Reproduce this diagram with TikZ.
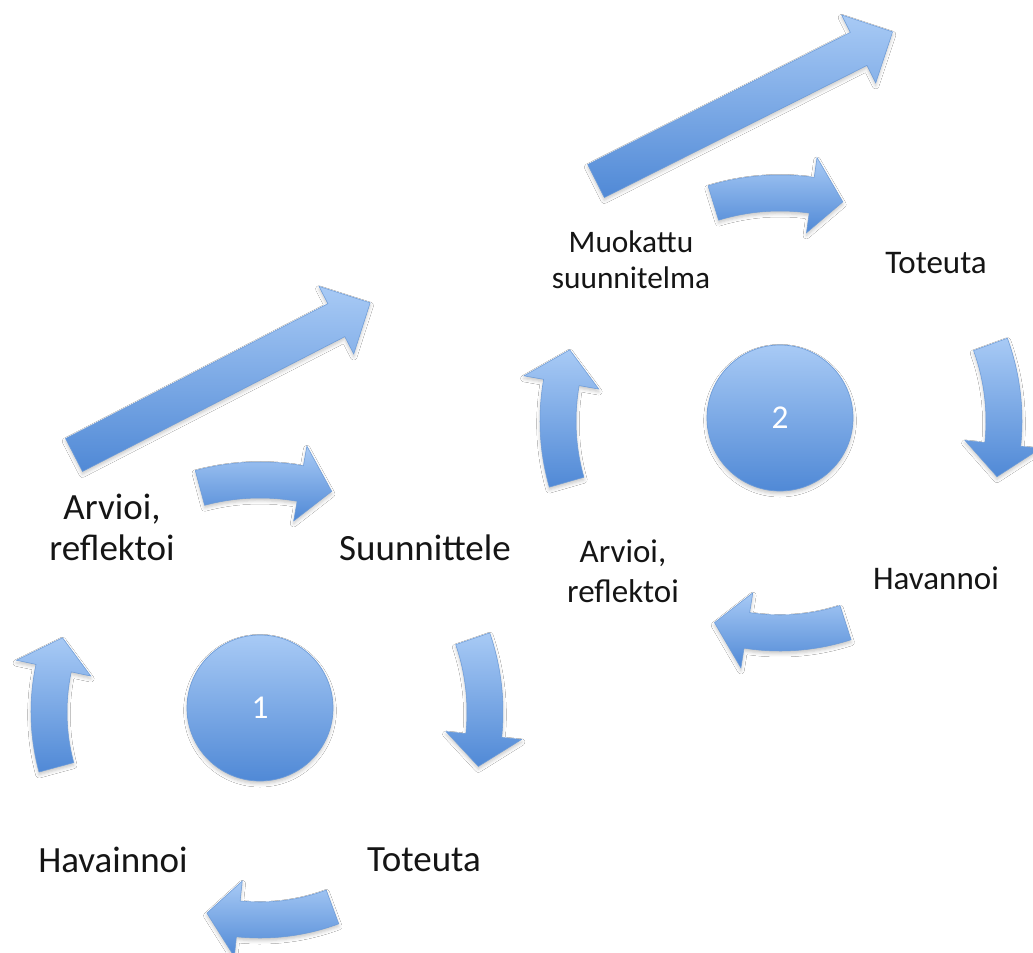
\documentclass[tikz,border=0pt]{standalone}
\usepackage{fontspec}
\setmainfont{Carlito}
\usetikzlibrary{shadows.blur}

\definecolor{bluelight}{HTML}{A8CAF5}
\definecolor{bluedark}{HTML}{5089D6}
\definecolor{blueedge}{HTML}{6C9BD8}
\definecolor{labelink}{HTML}{151515}

\tikzset{
  arrowfill/.style={top color=bluelight, bottom color=bluedark, draw=blueedge, line width=0.4pt,
    blur shadow={shadow xshift=0pt, shadow yshift=-2pt, shadow blur radius=2.5pt, shadow opacity=22}},
  ball/.style={circle, minimum size=109.5pt, inner sep=0pt, top color=bluelight, bottom color=bluedark,
    draw=blueedge, line width=0.5pt, text=white, font=\fontsize{25}{30}\selectfont,
    blur shadow={shadow xshift=0pt, shadow yshift=-2pt, shadow blur radius=2.5pt, shadow opacity=22}},
  biglabel/.style={align=center, text=labelink, inner sep=0pt, font=\fontsize{27.75}{30.75}\selectfont},
  smalllabel/.style={align=center, text=labelink, inner sep=0pt, font=\fontsize{24.75}{30}\selectfont},
  planlabel/.style={align=center, text=labelink, inner sep=0pt, font=\fontsize{23.5}{27}\selectfont}
}

% Curved block arrow on a ring: centre x, centre y, radius, tail angle, tip angle, head-base angle
\newcommand\ringarrow[6]{%
  \path[arrowfill]
    plot[domain=#4:#6, samples=24] ({#1+(#3+18)*cos(\x)},{#2+(#3+18)*sin(\x)})
    -- ({#1+(#3+38)*cos(#6)},{#2+(#3+38)*sin(#6)})
    -- ({#1+#3*cos(#5)},{#2+#3*sin(#5)})
    -- ({#1+(#3-38)*cos(#6)},{#2+(#3-38)*sin(#6)})
    -- plot[domain=#6:#4, samples=24] ({#1+(#3-18)*cos(\x)},{#2+(#3-18)*sin(\x)})
    -- cycle;}

% Straight block arrow: tail x, tail y, rotation, length
\newcommand\longarrow[4]{%
  \path[arrowfill, shift={(#1,#2)}, rotate=#3]
    (0,-18.5) -- (#4-38,-18.5) -- (#4-38,-38) -- (#4,0)
    -- (#4-38,38) -- (#4-38,18.5) -- (0,18.5) -- cycle;}

\begin{document}
\begin{tikzpicture}[x=0.75pt, y=-0.75pt]
  \useasboundingbox[fill=white] (0,0) rectangle (1033,953);

  % long arrows leading from one cycle to the next
  \longarrow{74}{455}{27.2}{333}
  \longarrow{596}{181}{26.7}{332}

  % first cycle
  \ringarrow{260}{712}{232}{-105}{-72}{-80}
  \ringarrow{260}{712}{225}{-19}{14}{6}
  \ringarrow{260}{712}{208}{69.6}{104.8}{96}
  \ringarrow{260}{712}{211}{164.8}{200.6}{192}
  \node[ball] (c1) at (260,708) {1};

  % second cycle
  \ringarrow{780}{421}{228}{-107}{-74}{-82}
  \ringarrow{780}{421}{224}{-20}{14.4}{6}
  \ringarrow{780}{421}{212}{72}{108}{99}
  \ringarrow{780}{421}{222}{164}{198.7}{190}
  \node[ball] (c2) at (780,418) {2};

  % labels of the first cycle
  \node[biglabel] (arv1) at (112,527) {Arvioi,\\reflektoi};
  \node[biglabel] (suu1) at (425,548) {Suunnittele};
  \node[biglabel] (tot1) at (424,860) {Toteuta};
  \node[biglabel] (hav1) at (113,860) {Havainnoi};

  % labels of the second cycle
  \node[planlabel] (muo2) at (631,260) {Muokattu\\suunnitelma};
  \node[smalllabel] (tot2) at (936,263) {Toteuta};
  \node[smalllabel] (hav2) at (936,578) {Havannoi};
  \node[smalllabel] (arv2) at (623,571) {Arvioi,\\reflektoi};
\end{tikzpicture}
\end{document}
